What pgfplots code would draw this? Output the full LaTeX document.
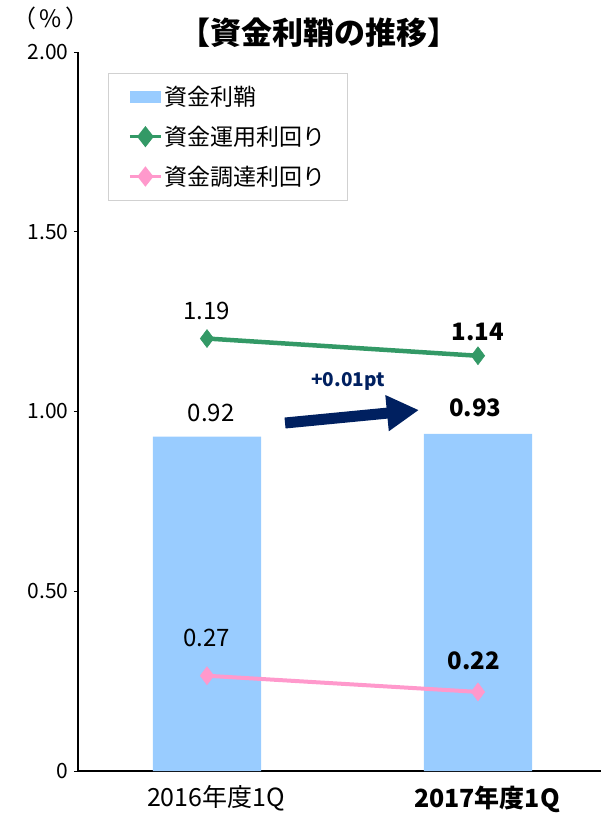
\documentclass[border=0pt]{standalone}
\usepackage{pgfplots}
\pgfplotsset{compat=1.18}
\usetikzlibrary{arrows.meta}
\usepackage{fontspec}
\setmainfont{Noto Sans CJK JP}
\definecolor{barblue}{HTML}{99CCFF}
\definecolor{grn}{HTML}{339966}
\definecolor{pnk}{HTML}{FF99CC}
\definecolor{navy}{HTML}{002060}
\begin{document}
\begin{tikzpicture}
\useasboundingbox (-78pt,-44pt) rectangle (523pt,771pt);
\begin{axis}[
  at={(0pt,0pt)}, anchor=south west,
  scale only axis, width=523pt, height=719pt,
  xmin=-0.476, xmax=1.454, ymin=0, ymax=2,
  axis x line=bottom, axis y line=left,
  axis line style={-, black, line width=1.2pt},
  xtick={0,1}, xticklabels={2016年度1Q,\textbf{2017年度1Q}},
  x tick label style={font=\fontsize{25}{28}\selectfont, yshift=-7pt, xshift=9pt},
  xtick style={draw=none},
  extra x ticks={0.5}, extra x tick labels={},
  extra x tick style={tick align=inside, major tick length=9pt, tick style={draw=black!70, line width=0.8pt}},
  ytick={0,0.5,1,1.5,2}, yticklabels={0,0.50,1.00,1.50,2.00},
  y tick label style={font=\fontsize{21}{24}\selectfont, xshift=-2pt},
  ytick style={black, line width=0.6pt},
  tick align=outside, major tick length=4pt,
  clip=false,
  legend style={at={(axis description cs:0.0574,0.9708)}, anchor=north west,
    draw=black!18, line width=0.8pt, font=\fontsize{23}{26}\selectfont,
    inner xsep=20pt, inner ysep=11pt, row sep=15pt,
    /tikz/every even column/.append style={column sep=11pt}},
  legend cell align=left,
]
\addplot[ybar, bar width=0.40, fill=barblue, draw=none,
  legend image code/.code={\fill[barblue] (0pt,-6pt) rectangle (31pt,6pt);}]
  coordinates {(0,0.93) (1,0.938)};
\addlegendentry{資金利鞘}
\addplot[grn, line width=4.5pt, mark=diamond*, mark size=9pt,
  mark options={line width=0.5pt, fill=grn, draw=grn},
  legend image code/.code={\draw[grn, line width=3pt] (0pt,0pt) -- (31pt,0pt);
    \fill[grn] (15.5pt,-7pt) -- (21pt,0pt) -- (15.5pt,7pt) -- (10pt,0pt) -- cycle;}]
  coordinates {(0,1.203) (1,1.155)};
\addlegendentry{資金運用利回り}
\addplot[pnk, line width=4pt, mark=diamond*, mark size=9pt,
  mark options={line width=0.5pt, fill=pnk, draw=pnk},
  legend image code/.code={\draw[pnk, line width=3pt] (0pt,0pt) -- (31pt,0pt);
    \fill[pnk] (15.5pt,-7pt) -- (21pt,0pt) -- (15.5pt,7pt) -- (10pt,0pt) -- cycle;}]
  coordinates {(0,0.265) (1,0.22)};
\addlegendentry{資金調達利回り}
\node[font=\fontsize{24}{26}\selectfont] at (axis cs:0.015,0.996) {0.92};
\node[font=\fontsize{24}{26}\selectfont\bfseries] at (axis cs:0.99,1.01) {0.93};
\node[font=\fontsize{24}{26}\selectfont] at (axis cs:0.0,1.28) {1.19};
\node[font=\fontsize{24}{26}\selectfont\bfseries] at (axis cs:1.0,1.221) {1.14};
\node[font=\fontsize{24}{26}\selectfont] at (axis cs:0.0,0.37) {0.27};
\node[font=\fontsize{24}{26}\selectfont\bfseries] at (axis cs:0.985,0.306) {0.22};
\node[font=\fontsize{19}{22}\selectfont\bfseries, text=navy] at (axis cs:0.52,1.085) {+0.01pt};
\draw[navy, line width=11pt, -{Triangle[length=32pt,width=34pt]}] (axis cs:0.288,0.968) -- (axis cs:0.782,1.004);
\end{axis}
\node[font=\fontsize{31}{34}\selectfont\bfseries] at (241pt,738pt) {【資金利鞘の推移】};
\node[font=\fontsize{24}{26}\selectfont] at (-27pt,753pt) {（\kern3pt\%\kern3pt）};
\end{tikzpicture}
\end{document}
